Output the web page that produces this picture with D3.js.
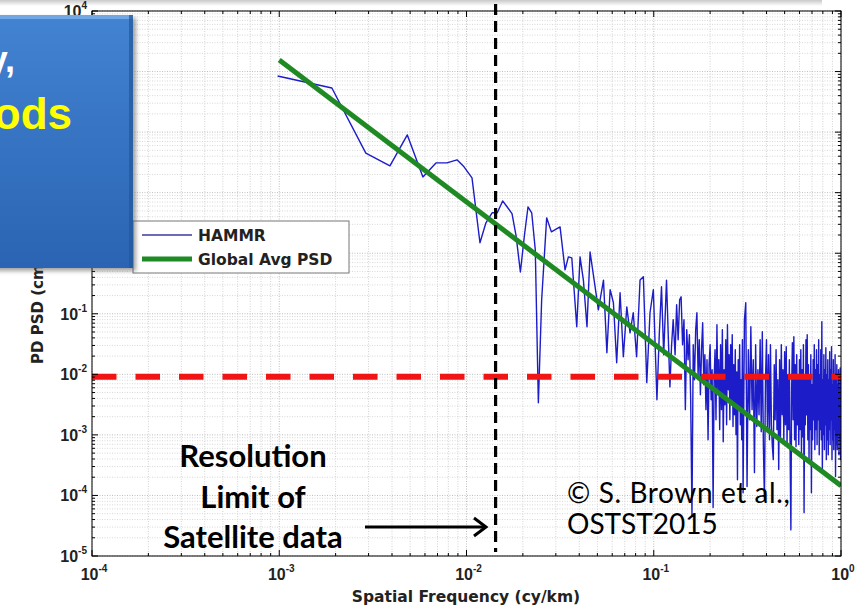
<!DOCTYPE html>
<html><head><meta charset="utf-8">
<script src="https://cdn.jsdelivr.net/npm/d3@7"></script>
<style>
html,body{margin:0;padding:0;background:#fff;}
svg{display:block;}
</style></head>
<body>
<svg id="chart" width="856" height="613"></svg>
<script>
// HAMMR path-delay power spectral density against spatial frequency (log-log)

// [frequency cy/km, PSD] pairs, low-frequency part
const hammrLow = [
  [0.00098, 845], [0.00191, 535], [0.0029, 45], [0.0039, 27.7], [0.00483, 90],
  [0.00585, 18.2], [0.00687, 31], [0.00786, 31], [0.0089, 34.8], [0.0097, 26.7],
  [0.0107, 17.5], [0.0118, 1.49], [0.0127, 3.18], [0.0137, 4.65], [0.0146, 4.65],
  [0.0156, 7.3], [0.0165, 5.8], [0.0175, 4.5], [0.0184, 1.94], [0.0194, 0.49],
  [0.0204, 2.0], [0.0213, 5.8], [0.0223, 4.65], [0.0233, 1.14], [0.0242, 0.0034]
];
// mid band
const hammrMid = [
  [0.0252, 0.17], [0.0268, 3.84], [0.0284, 2.25], [0.0309, 2.62], [0.0316, 2.72],
  [0.0336, 0.53], [0.0350, 0.87], [0.0365, 0.84], [0.0388, 0.061], [0.0404, 0.87],
  [0.0421, 0.36], [0.0440, 0.061], [0.0457, 1.05], [0.0486, 0.28], [0.0506, 0.116],
  [0.0539, 0.36], [0.0562, 0.0227], [0.0585, 0.25], [0.0609, 0.152], [0.0634, 0.0155],
  [0.0661, 0.222], [0.0688, 0.0195], [0.0718, 0.13], [0.0747, 0.0485], [0.0777, 0.104],
  [0.0810, 0.0195], [0.0845, 0.36], [0.0880, 0.41], [0.0918, 0.0073], [0.0955, 0.104],
  [0.0995, 0.25], [0.104, 0.0038], [0.107, 0.045], [0.110, 0.28], [0.113, 0.021],
  [0.117, 0.36], [0.1195, 0.045], [0.122, 0.0062], [0.1245, 0.03], [0.127, 0.080]
];
// high-frequency noisy band
const hammrHigh = [
  [0.130, 0.021], [0.1325, 0.141], [0.135, 0.0372], [0.1375, 0.170], [0.140, 0.191],
  [0.1425, 0.0308], [0.145, 0.0796], [0.1475, 0.00261], [0.150, 0.0545], [0.1525, 0.0174],
  [0.155, 0.045], [0.1575, 0.00381], [0.160, 0.000048], [0.1625, 0.0308], [0.165, 0.00815],
  [0.1675, 0.0545], [0.170, 0.104], [0.1725, 0.00985], [0.175, 0.0372], [0.1775, 0.0046],
  [0.180, 0.0255], [0.1825, 0.071], [0.185, 0.00673], [0.1875, 0.021], [0.190, 0.00261],
  [0.1925, 0.0174], [0.195, 0.00083], [0.1975, 0.0144], [0.200, 0.0308], [0.2025, 0.00381],
  [0.205, 0.0119], [0.2075, 0.000063], [0.210, 0.00815], [0.2125, 0.0255], [0.215, 0.00178],
  [0.2175, 0.0658], [0.220, 0.0046], [0.2225, 0.0174], [0.225, 0.00122], [0.2275, 0.0308],
  [0.230, 0.00261], [0.2325, 0.0545], [0.235, 0.00077], [0.2375, 0.0119], [0.240, 0.00315],
  [0.2425, 0.0372], [0.245, 0.00147], [0.2475, 0.0658], [0.250, 0.00557], [0.2525, 0.021],
  [0.255, 0.00178], [0.2575, 0.0308], [0.260, 0.00381], [0.2625, 0.045], [0.265, 0.00137],
  [0.2675, 0.0144], [0.270, 0.00215], [0.2725, 0.0255], [0.275, 0.00101], [0.2775, 0.011],
  [0.280, 0.000182], [0.2825, 0.0174], [0.285, 0.00261], [0.2875, 0.0308], [0.290, 0.00147],
  [0.2925, 0.00815], [0.295, 0.00083], [0.2975, 0.0372], [0.300, 0.000111], [0.305, 0.0796],
  [0.31, 0.152], [0.315, 0.00014], [0.32, 0.0255], [0.325, 0.00178], [0.33, 0.061],
  [0.335, 0.00261], [0.34, 0.0174], [0.345, 0.000238], [0.35, 0.0308], [0.355, 0.00137],
  [0.36, 0.0119], [0.365, 0.00215], [0.37, 0.0372], [0.375, 0.00113], [0.38, 0.0505],
  [0.385, 0.00069], [0.39, 0.000085], [0.395, 0.00815], [0.40, 0.0372], [0.405, 0.00122],
  [0.41, 0.021], [0.415, 0.00083], [0.42, 0.0308], [0.425, 0.00147], [0.43, 0.00064],
  [0.435, 0.00039], [0.44, 0.0144], [0.445, 0.00178], [0.45, 0.0255], [0.455, 0.00122],
  [0.46, 0.00815], [0.465, 0.000267], [0.47, 0.0174], [0.475, 0.00093], [0.48, 0.0308],
  [0.485, 0.00215], [0.49, 0.0119], [0.495, 0.00083], [0.50, 0.0236], [0.505, 0.00147],
  [0.51, 0.0285], [0.515, 0.00069], [0.52, 0.00985], [0.525, 0.00122], [0.53, 0.0174],
  [0.535, 0.00047], [0.54, 0.000027], [0.545, 0.00557], [0.55, 0.0332], [0.555, 0.00178],
  [0.56, 0.0417], [0.565, 0.00083], [0.57, 0.0144], [0.575, 0.00064], [0.58, 0.021],
  [0.585, 0.00147], [0.59, 0.00985], [0.595, 0.00069], [0.60, 0.0174], [0.605, 0.00122],
  [0.61, 0.0255], [0.615, 0.00047], [0.62, 0.0119], [0.625, 0.00093], [0.63, 0.0308],
  [0.635, 0.000052], [0.64, 0.00815], [0.645, 0.00147], [0.65, 0.0372], [0.655, 0.00215],
  [0.66, 0.045], [0.665, 0.00083], [0.67, 0.0144], [0.675, 0.00039], [0.68, 0.00985],
  [0.685, 0.00122], [0.69, 0.021], [0.695, 0.000111], [0.70, 0.00673], [0.705, 0.00083],
  [0.71, 0.0174], [0.715, 0.00178], [0.72, 0.0308], [0.725, 0.00057], [0.73, 0.0119],
  [0.735, 0.00122], [0.74, 0.0255], [0.745, 0.00069], [0.75, 0.0144], [0.755, 0.00178],
  [0.76, 0.0372], [0.765, 0.00047], [0.77, 0.00985], [0.775, 0.00122], [0.78, 0.0255],
  [0.785, 0.00083], [0.79, 0.0738], [0.795, 0.000238], [0.80, 0.00815], [0.805, 0.00101],
  [0.81, 0.021], [0.815, 0.00057], [0.82, 0.0119], [0.825, 0.00147], [0.83, 0.0275],
  [0.835, 0.00039], [0.84, 0.00985], [0.845, 0.00083], [0.85, 0.0174], [0.855, 0.00047],
  [0.86, 0.00815], [0.865, 0.00122], [0.87, 0.0236], [0.875, 0.00069], [0.88, 0.0119],
  [0.885, 0.00178], [0.89, 0.0285], [0.895, 0.00039], [0.90, 0.00673], [0.905, 0.00083],
  [0.91, 0.0174], [0.915, 0.00057], [0.92, 0.00985], [0.925, 0.00122], [0.93, 0.021],
  [0.935, 0.000205], [0.94, 0.00815], [0.945, 0.00069], [0.95, 0.0144], [0.955, 0.00057],
  [0.96, 0.00673], [0.965, 0.00101], [0.97, 0.0119], [0.975, 0.00047], [0.98, 0.00557],
  [0.985, 0.00083], [0.99, 0.0128], [0.995, 0.00039], [1.00, 0.0046]
];

// global average PSD power law (end points)
const globalAvgFreq = [0.001, 1];
const globalAvgPsd = [1550, 0.000145];

const noiseLevelPsd = 0.0091;        // red dashed level
const resolutionLimitFreq = 0.0143;  // black dashed limit

const xTickExponents = [-4, -3, -2, -1, 0];
// decade labels left of the axis; 10^3..10^0 sit under the slide box and are not drawn
const yTickExponents = [4, -1, -2, -3, -4, -5];
const legendLabels = ["HAMMR", "Global Avg PSD"];
const xTitle = "Spatial Frequency (cy/km)";
const yTitle = "PD PSD (cm\u00B2/cy/km)";
const resolutionText = ["Resolution", "Limit of", "Satellite data"];
const creditText = ["\u00A9 S. Brown et al.,", "OSTST2015"];

const colors = { hammr: "#1c1cc8", global: "#1f8a24", noise: "#f01414", limit: "#000" };

const svg = d3.select("#chart");
const P = { left: 92, right: 841, top: 11, bottom: 556 };
const x = d3.scaleLog().domain([1e-4, 1]).range([P.left, P.right]);
const y = d3.scaleLog().domain([1e-5, 1e4]).range([P.bottom, P.top]);

const defs = svg.append("defs");
const topShade = defs.append("linearGradient").attr("id", "topShade").attr("x1", 0).attr("x2", 0).attr("y1", 0).attr("y2", 1);
topShade.append("stop").attr("offset", 0).attr("stop-color", "#c9c9c9");
topShade.append("stop").attr("offset", 1).attr("stop-color", "#fff");
const boxFill = defs.append("linearGradient").attr("id", "boxFill").attr("x1", 0).attr("x2", 0).attr("y1", 0).attr("y2", 1);
boxFill.append("stop").attr("offset", 0).attr("stop-color", "#4283d2");
boxFill.append("stop").attr("offset", 1).attr("stop-color", "#2a64b2");
const shadowBlur = defs.append("filter").attr("id", "shadowBlur").attr("x", "-20%").attr("y", "-20%").attr("width", "140%").attr("height", "140%");
shadowBlur.append("feGaussianBlur").attr("stdDeviation", 2);
defs.append("clipPath").attr("id", "plotClip").append("rect")
  .attr("x", P.left).attr("y", P.top).attr("width", P.right - P.left).attr("height", P.bottom - P.top);

svg.append("rect").attr("width", 856).attr("height", 613).attr("fill", "#fff");
svg.append("rect").attr("x", 0).attr("y", 0).attr("width", 822).attr("height", 6).attr("fill", "url(#topShade)");

// log grid positions
const xGridVals = [], yGridVals = [];
for (let e = -4; e < 0; e++) for (let m = 1; m <= 9; m++) xGridVals.push(m * Math.pow(10, e));
xGridVals.push(1);
for (let e = -5; e < 4; e++) for (let m = 1; m <= 9; m++) yGridVals.push(m * Math.pow(10, e));
yGridVals.push(1e4);
const isMajor = v => Math.abs(Math.log10(v) - Math.round(Math.log10(v))) < 1e-9;

const grid = svg.append("g");
grid.selectAll(".gx").data(xGridVals).join("line")
  .attr("x1", d => x(d)).attr("x2", d => x(d)).attr("y1", P.top).attr("y2", P.bottom)
  .attr("stroke", d => isMajor(d) ? "#bdbdbd" : "#d2d2d2").attr("stroke-width", 1)
  .attr("stroke-dasharray", "1,1.5");
grid.selectAll(".gy").data(yGridVals).join("line")
  .attr("y1", d => y(d)).attr("y2", d => y(d)).attr("x1", P.left).attr("x2", P.right)
  .attr("stroke", d => isMajor(d) ? "#bdbdbd" : "#d8d8d8").attr("stroke-width", 1)
  .attr("stroke-dasharray", "1,1.5");

// data
const hammr = [...hammrLow, ...hammrMid, ...hammrHigh];
const line = d3.line().x(d => x(d[0])).y(d => y(d[1]));
const plotG = svg.append("g").attr("clip-path", "url(#plotClip)");
plotG.append("path").datum(hammr).attr("d", line).attr("fill", "none")
  .attr("stroke", colors.hammr).attr("stroke-width", 1.4).attr("stroke-linejoin", "round");
plotG.append("path").datum(globalAvgFreq.map((f, i) => [f, globalAvgPsd[i]])).attr("d", line)
  .attr("fill", "none").attr("stroke", colors.global).attr("stroke-width", 5);
svg.append("line").attr("x1", x(1e-4)).attr("x2", x(1)).attr("y1", y(noiseLevelPsd)).attr("y2", y(noiseLevelPsd))
  .attr("stroke", colors.noise).attr("stroke-width", 6).attr("stroke-dasharray", "24.5,19");
svg.append("line").attr("x1", x(resolutionLimitFreq)).attr("x2", x(resolutionLimitFreq))
  .attr("y1", P.top - 7).attr("y2", P.bottom - 4)
  .attr("stroke", colors.limit).attr("stroke-width", 3.2).attr("stroke-dasharray", "11,6");

// axes box and inward ticks
const axes = svg.append("g").attr("stroke", "#000").attr("stroke-width", 1);
axes.append("rect").attr("x", P.left).attr("y", P.top).attr("width", P.right - P.left).attr("height", P.bottom - P.top).attr("fill", "none");
xGridVals.forEach(v => {
  const L = isMajor(v) ? 6 : 3;
  axes.append("line").attr("x1", x(v)).attr("x2", x(v)).attr("y1", P.bottom).attr("y2", P.bottom - L);
  axes.append("line").attr("x1", x(v)).attr("x2", x(v)).attr("y1", P.top).attr("y2", P.top + L);
});
yGridVals.forEach(v => {
  const L = isMajor(v) ? 6 : 3;
  axes.append("line").attr("y1", y(v)).attr("y2", y(v)).attr("x1", P.left).attr("x2", P.left + L);
  axes.append("line").attr("y1", y(v)).attr("y2", y(v)).attr("x1", P.right).attr("x2", P.right - L);
});

// tick labels 10^n
const tickFont = "'Liberation Sans', Arial, sans-serif";
xTickExponents.forEach(e => {
  const t = svg.append("text").attr("x", x(Math.pow(10, e)) + 2).attr("y", 580)
    .attr("text-anchor", "middle").attr("font-family", tickFont).attr("font-weight", "bold")
    .attr("font-size", 16).attr("fill", "#222");
  t.append("tspan").text("10");
  t.append("tspan").attr("dy", -8).attr("font-size", 10).text(e);
});
yTickExponents.forEach(e => {
  const t = svg.append("text").attr("x", 87).attr("y", y(Math.pow(10, e)) + 6)
    .attr("text-anchor", "end").attr("font-family", tickFont).attr("font-weight", "bold")
    .attr("font-size", 16).attr("fill", "#222");
  t.append("tspan").text("10");
  t.append("tspan").attr("dy", -8).attr("font-size", 10).text(e);
});

const titleFont = "'DejaVu Sans', sans-serif";
svg.append("text").attr("x", 466).attr("y", 602).attr("text-anchor", "middle")
  .attr("font-family", titleFont).attr("font-weight", "bold").attr("font-size", 15.5).attr("fill", "#222").text(xTitle);
svg.append("text").attr("transform", "translate(43,364) rotate(-90)")
  .attr("font-family", titleFont).attr("font-weight", "bold").attr("font-size", 15).attr("fill", "#222").text(yTitle);

// legend
const lg = svg.append("g");
lg.append("rect").attr("x", 133).attr("y", 221).attr("width", 216).attr("height", 52)
  .attr("fill", "#fff").attr("stroke", "#777").attr("stroke-width", 1);
lg.append("line").attr("x1", 142).attr("x2", 192).attr("y1", 235).attr("y2", 235)
  .attr("stroke", "#3a3aa0").attr("stroke-width", 1.3);
lg.append("line").attr("x1", 142).attr("x2", 192).attr("y1", 259).attr("y2", 259)
  .attr("stroke", colors.global).attr("stroke-width", 5);
legendLabels.forEach((s, i) => {
  lg.append("text").attr("x", 198).attr("y", 241 + i * 24).attr("font-family", titleFont)
    .attr("font-weight", "bold").attr("font-size", 15.5).attr("fill", "#222").text(s);
});

// annotations
const calibri = "Lato, 'Open Sans', sans-serif";
resolutionText.forEach((s, i) => {
  svg.append("text").attr("x", 253).attr("y", [467, 508, 548][i]).attr("text-anchor", "middle")
    .attr("font-family", calibri).attr("font-weight", "bold").attr("font-size", 31).attr("fill", "#000").text(s);
});
svg.append("line").attr("x1", 365).attr("x2", 485).attr("y1", 527).attr("y2", 527)
  .attr("stroke", "#000").attr("stroke-width", 3);
svg.append("polyline").attr("points", "474,518 486,527 474,536").attr("fill", "none")
  .attr("stroke", "#000").attr("stroke-width", 3).attr("stroke-linejoin", "miter");
creditText.forEach((s, i) => {
  svg.append("text").attr("x", 567).attr("y", [503, 534][i]).attr("font-family", calibri)
    .attr("font-size", 28).attr("letter-spacing", i === 0 ? 0.6 : 0).attr("fill", "#000").text(s);
});

// slide shape overlapping the chart corner
const box = svg.append("g");
box.append("rect").attr("x", -10).attr("y", 18).attr("width", 146).attr("height", 253)
  .attr("fill", "#555").attr("opacity", 0.55).attr("filter", "url(#shadowBlur)");
box.append("rect").attr("x", -10).attr("y", 15).attr("width", 143).attr("height", 253).attr("fill", "url(#boxFill)");
box.append("rect").attr("x", -10).attr("y", 15).attr("width", 143).attr("height", 4).attr("fill", "#7db0ea").attr("opacity", 0.8);
box.append("rect").attr("x", 129).attr("y", 15).attr("width", 4).attr("height", 253).attr("fill", "#245799").attr("opacity", 0.7);
box.append("text").attr("x", 15).attr("y", 72).attr("text-anchor", "end").attr("font-family", tickFont)
  .attr("font-weight", "bold").attr("font-size", 36).attr("fill", "#fff").text("y,");
box.append("text").attr("x", 72).attr("y", 129).attr("text-anchor", "end").attr("font-family", tickFont)
  .attr("font-weight", "bold").attr("font-size", 44).attr("fill", "#ffff00").text("ods");
</script>
</body></html>
